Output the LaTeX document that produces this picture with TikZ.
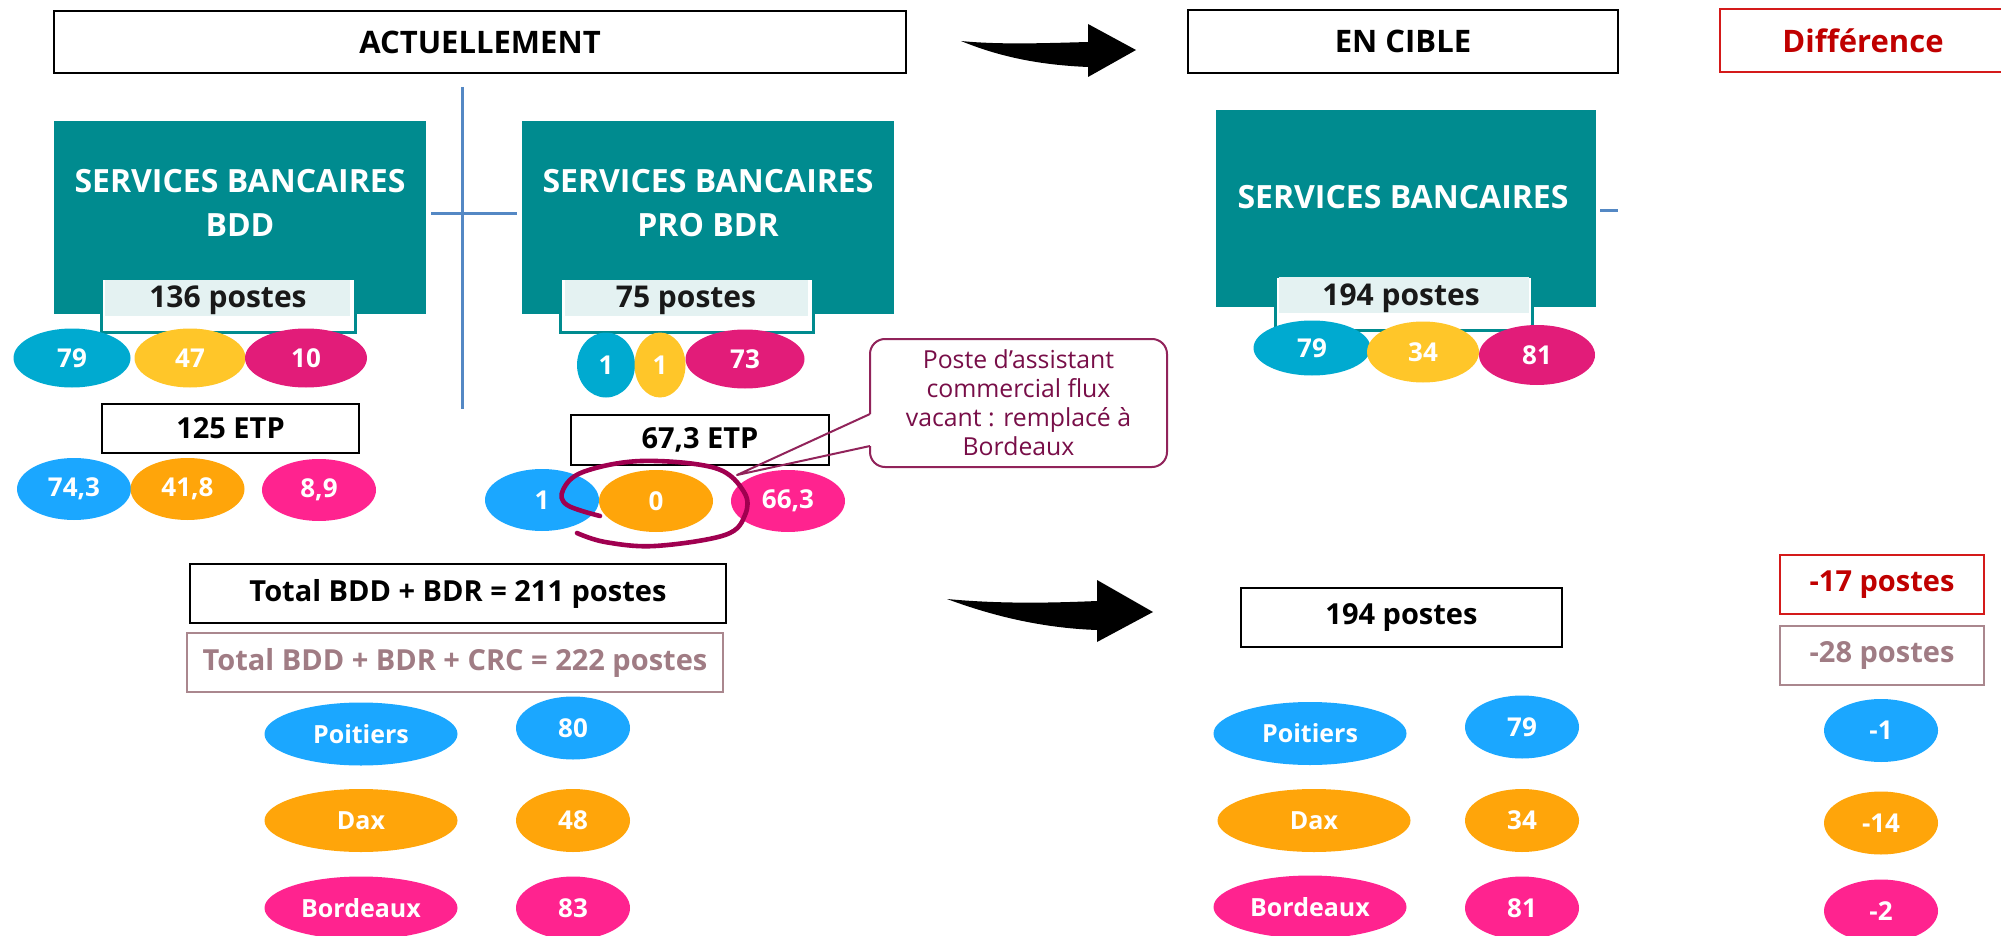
\documentclass[tikz,border=0pt]{standalone}
\usepackage{fontspec}
\setmainfont{Open Sans}
\usetikzlibrary{shapes.geometric}

\definecolor{tealbox}{RGB}{0,139,143}
\definecolor{tealpale}{RGB}{228,242,242}
\definecolor{tblue}{RGB}{0,170,208}
\definecolor{tyellow}{RGB}{255,198,41}
\definecolor{tpink}{RGB}{226,28,121}
\definecolor{bblue}{RGB}{27,167,255}
\definecolor{borange}{RGB}{255,165,10}
\definecolor{bpink}{RGB}{255,35,143}
\definecolor{lineblue}{RGB}{84,136,196}
\definecolor{diffred}{RGB}{192,0,0}
\definecolor{diffredline}{RGB}{212,26,26}
\definecolor{mauve}{RGB}{160,124,132}
\definecolor{mauveline}{RGB}{170,135,142}
\definecolor{plum}{RGB}{160,0,80}
\definecolor{plumtext}{RGB}{120,14,72}
\definecolor{plumline}{RGB}{145,35,90}

\tikzset{
  hdr/.style={draw=black, line width=1pt, fill=white, inner sep=0pt,
    font=\bfseries\fontsize{15.5}{18}\selectfont},
  box/.style={draw=black, line width=1pt, fill=white, inner sep=0pt,
    font=\bfseries\fontsize{14.5}{17}\selectfont},
  servicebox/.style={fill=tealbox, inner sep=0pt},
  servicetext/.style={text=white, align=center, inner sep=0pt,
    font=\bfseries\fontsize{16}{22}\selectfont},
  countbox/.style={draw=tealbox, line width=1.5pt, fill=white, inner sep=0pt},
  counttext/.style={inner sep=0pt, text=black!90,
    font=\bfseries\fontsize{15}{17}\selectfont},
  oval/.style={ellipse, inner sep=0pt, text=white,
    font=\bfseries\fontsize{13}{15}\selectfont},
  city/.style={oval, minimum width=96.5pt, minimum height=31.5pt,
    font=\bfseries\fontsize{12.5}{15}\selectfont},
  val/.style={oval, minimum width=57pt, minimum height=31.5pt},
  sep/.style={draw=lineblue, line width=1.5pt},
  bigarrow/.style={fill=black},
}

\begin{document}
\begin{tikzpicture}[x=0.5pt,y=-0.5pt]
\useasboundingbox (0,0) rectangle (2001,936);
\clip (0,0) rectangle (2001,936);

% ---------- headers ----------
\node[hdr, minimum width=426pt, minimum height=31pt] (act) at (480,42) {ACTUELLEMENT};
\node[hdr, minimum width=215pt, minimum height=31.5pt] (cible) at (1403,41.5) {EN CIBLE};
\node[hdr, draw=diffredline, text=diffred, minimum width=143pt, minimum height=31.5pt]
  (diff) at (1863,40.5) {Différence};

% block arrow between the two header columns
\coordinate (a1tail) at (961,41);
\fill[bigarrow] (a1tail) .. controls (1000,45) and (1050,43) .. (1088,42)
  -- (1088,24) -- (1136,50) -- (1088,77) -- (1088,67)
  .. controls (1040,65) and (1000,57) .. (a1tail) -- cycle;

% ---------- separators ----------
\draw[sep] (462,87) -- (462,409);

% ---------- service blocks ----------
\node[servicebox, minimum width=186pt, minimum height=96.5pt] (bdd) at (240,217.5) {};
\node[servicebox, minimum width=186pt, minimum height=96.5pt] (bdr) at (708,217.5) {};
\node[servicebox, minimum width=190pt, minimum height=98.5pt] (sb) at (1406,208.5) {};
\draw[sep] ([xshift=2.5pt]bdd.east |- 0,214) -- ([xshift=-2.5pt]bdr.west |- 0,214);
\draw[sep] ([xshift=2pt]sb.east |- 0,211) -- ++(18,0);

\node[servicetext] (bddt) at (240,203) {SERVICES BANCAIRES\\BDD};
\node[servicetext] (bdrt) at (708,203) {SERVICES BANCAIRES\\PRO BDR};
\node[servicetext] (sbt) at (1403,197) {SERVICES BANCAIRES};

% post counts under each block
\node[countbox, minimum width=127pt, minimum height=27pt] (c136) at (228,305) {};
\fill[tealpale] (105,280) rectangle (350,316);
\node[counttext] (c136t) at (228,300) {136 postes};

\node[countbox, minimum width=126.5pt, minimum height=27pt] (c75) at (686.5,305) {};
\fill[tealpale] (565,280) rectangle (808,316);
\node[counttext] (c75t) at (686,300) {75 postes};

\node[countbox, minimum width=128.5pt, minimum height=27pt] (c194) at (1403.5,303) {};
\fill[tealpale] (1279,277) rectangle (1529,313);
\node[counttext] (c194t) at (1401,298) {194 postes};

% split per site (posts)
\node[oval, fill=tblue,   minimum width=58.5pt, minimum height=29.5pt] (p79)  at (72,358)  {79};
\node[oval, fill=tyellow, minimum width=55.5pt, minimum height=29.5pt] (p47)  at (190,358) {47};
\node[oval, fill=tpink,   minimum width=61pt,   minimum height=29.5pt] (p10)  at (306,358) {10};

\node[oval, fill=tblue,   minimum width=29pt,   minimum height=32.5pt] (q1a)  at (606,365) {1};
\node[oval, fill=tyellow, minimum width=25.5pt, minimum height=32.5pt] (q1b)  at (660,365) {1};
\node[oval, fill=tpink,   minimum width=59.5pt, minimum height=29.5pt] (q73)  at (745,359) {73};

\node[oval, fill=tblue,   minimum width=58.5pt, minimum height=27.5pt] (r79)  at (1312,348) {79};
\node[oval, fill=tyellow, minimum width=56pt,   minimum height=30.5pt] (r34)  at (1423,352) {34};
\node[oval, fill=tpink,   minimum width=58pt,   minimum height=30pt]   (r81)  at (1537,355) {81};

% ---------- ETP ----------
\node[box, minimum width=128.5pt, minimum height=24.5pt] (etp125) at (230.5,428.5) {125 ETP};
\node[box, minimum width=129pt, minimum height=25pt] (etp67) at (700,440) {67,3 ETP};

\node[val, fill=bblue,   minimum height=31pt] (u743) at (74,489)    {74,3};
\node[val, fill=borange, minimum height=31pt] (u418) at (187.5,489) {41,8};
\node[val, fill=bpink,   minimum height=31pt] (u89)  at (319,490)   {8,9};

\node[val, fill=bblue,   minimum height=31pt] (v1)   at (542,500) {1};
\node[val, fill=borange, minimum height=31pt] (v0)   at (656,501) {0};
\node[val, fill=bpink,   minimum height=31pt] (v663) at (788,501) {66,3};

% hand-drawn ring around the vacant post
\draw[plum, line width=2.3pt, line cap=round] plot[smooth, tension=0.6] coordinates
  {(600,516) (567,505) (563,490) (583,472) (641,461) (715,468) (744,492)
   (745,515) (725,535) (655,546) (605,542) (577,533)};

% callout
\coordinate (tip) at (737,475);
\fill[white, rounded corners=7.5pt] (870,414) -- (870,339) -- (1167,339) -- (1167,467) -- (870,467) -- (870,446) -- cycle;
\draw[plumline, line width=1pt, rounded corners=7.5pt]
  (870,414) -- (870,339) -- (1167,339) -- (1167,467) -- (870,467) -- (870,446);
\draw[plumline, line width=1pt, line join=round] (870,414) -- (tip) -- (870,446);
\node[text=plumtext, align=center, inner sep=0pt,
  font=\fontsize{12.4}{14.5}\selectfont] (note) at (1018.5,403)
  {Poste d’assistant\\commercial flux\\vacant : remplacé à\\Bordeaux};

% ---------- totals ----------
\node[box, minimum width=268pt, minimum height=29.5pt] (tot211) at (458,593.5) {Total BDD + BDR = 211 postes};
\node[box, draw=mauveline, text=mauve, minimum width=268pt, minimum height=29.5pt]
  (tot222) at (455,662.5) {Total BDD + BDR + CRC = 222 postes};

\coordinate (a2tail) at (947,599);
\fill[bigarrow] (a2tail) .. controls (1000,604) and (1050,603) .. (1097,601)
  -- (1097,580) -- (1153,612) -- (1097,642) -- (1097,630)
  .. controls (1040,628) and (990,615) .. (a2tail) -- cycle;

\node[box, minimum width=160.5pt, minimum height=29.5pt] (tot194) at (1401.5,617.5) {194 postes};

\node[box, draw=diffredline, text=diffred, minimum width=102pt, minimum height=29.5pt]
  (d17) at (1882,584.5) {-17 postes};
\node[box, draw=mauveline, text=mauve, minimum width=102pt, minimum height=29.5pt]
  (d28) at (1882,655.5) {-28 postes};

% ---------- per site ----------
\node[city, fill=bblue]   (poiL) at (361,734)   {Poitiers};
\node[city, fill=borange] (daxL) at (361,820.5) {Dax};
\node[city, fill=bpink]   (borL) at (361,908)   {Bordeaux};
\node[val, fill=bblue]    (n80)  at (573,728)   {80};
\node[val, fill=borange]  (n48)  at (573,820.5) {48};
\node[val, fill=bpink]    (n83)  at (573,908)   {83};

\node[city, fill=bblue]   (poiR) at (1310,733.5) {Poitiers};
\node[city, fill=borange] (daxR) at (1314,820.5) {Dax};
\node[city, fill=bpink]   (borR) at (1310,907)   {Bordeaux};
\node[val, fill=bblue]    (n79)  at (1522,727)   {79};
\node[val, fill=borange]  (n34)  at (1522,820.5) {34};
\node[val, fill=bpink]    (n81)  at (1522,908)   {81};

\node[val, fill=bblue]    (m1)   at (1881,730.5) {-1};
\node[val, fill=borange]  (m14)  at (1881,823)   {-14};
\node[val, fill=bpink]    (m2)   at (1881,911)   {-2};
\end{tikzpicture}
\end{document}
